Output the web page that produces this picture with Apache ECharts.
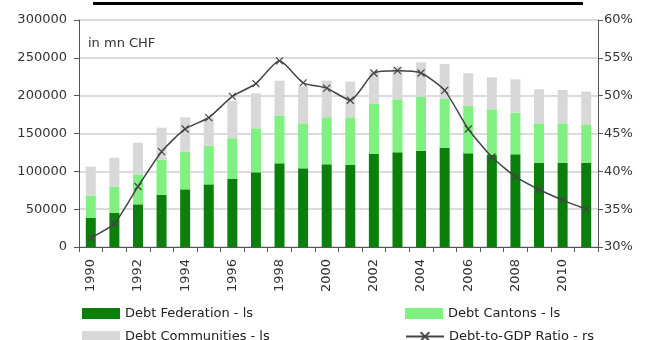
<!DOCTYPE html>
<html>
<head>
<meta charset="utf-8">
<script src="https://cdn.jsdelivr.net/npm/echarts@6/dist/echarts.min.js"></script>
<style>html,body{margin:0;padding:0;background:#fff;}#c{width:657px;height:340px;}</style>
</head>
<body>
<div id="c"></div>
<script>
var years = ['1990','1991','1992','1993','1994','1995','1996','1997','1998','1999','2000','2001','2002','2003','2004','2005','2006','2007','2008','2009','2010','2011'];
var debtFederation = [38700,45300,56400,68700,76200,82800,89900,98700,110600,104000,109300,108400,122900,125100,127300,131200,123800,121600,122500,111400,111400,111400];
var debtCantons = [29100,34400,39600,46300,49800,51100,53800,58200,62500,59500,62200,63000,66100,70100,71300,64400,62500,60400,55000,52100,52100,49800];
var debtCommunities = [38300,38300,41800,42700,45400,37000,49300,46200,46700,48400,48500,47100,42000,43100,45500,46200,43200,42300,44100,44900,44000,44100];
var debtToGdp = [31.2,33.1,38.0,42.6,45.6,47.1,49.9,51.6,54.6,51.7,51.0,49.4,53.0,53.3,53.0,50.7,45.6,41.9,39.3,37.6,36.2,35.0];
var leftTicks = {min:0, max:300000, interval:50000};
var rightTicks = {min:30, max:60, interval:5};
var titleText = 'Swiss public debt development (1990-2011)';
var unitText = 'in mn CHF';

var FONT = 'DejaVu Sans';
var chart = echarts.init(document.getElementById('c'), null, {renderer:'canvas'});
var xMark = 'path://M0,0L10,10M10,0L0,10';
var legText = {fontFamily:FONT, fontSize:13, color:'#222'};
chart.setOption({
  animation:false,
  textStyle:{fontFamily:FONT},
  grid:{left:79, right:59, top:20, bottom:93},
  graphic:[
    {type:'text', left:'center', top:-22, z:10, style:{text:titleText, font:'bold 22px "Liberation Sans"', fill:'#000'}},
    {type:'rect', left:93, top:2, z:10, shape:{x:0, y:0, width:490, height:3}, style:{fill:'#000'}},
    {type:'text', left:88, top:37, style:{text:unitText, font:'13px "DejaVu Sans"', fill:'#333'}}
  ],
  legend:[
    {data:[{name:'Debt Federation - ls', icon:'rect'}], left:77, top:302, itemWidth:38, itemHeight:11, textStyle:legText},
    {data:[{name:'Debt Cantons - ls', icon:'rect'}], left:400, top:302, itemWidth:38, itemHeight:11, textStyle:legText},
    {data:[{name:'Debt Communities - ls', icon:'rect'}], left:77, top:325, itemWidth:38, itemHeight:11, textStyle:legText},
    {data:['Debt-to-GDP Ratio - rs'], left:400, top:325, itemWidth:38, itemHeight:11, textStyle:legText}
  ],
  xAxis:{
    type:'category', data:years, boundaryGap:true,
    axisLine:{lineStyle:{color:'#555', width:1}},
    axisTick:{show:true, interval:0, length:5, lineStyle:{color:'#555'}},
    axisLabel:{rotate:90, interval:1, margin:12, fontFamily:FONT, fontSize:13, color:'#333'}
  },
  yAxis:[
    {type:'value', min:leftTicks.min, max:leftTicks.max, interval:leftTicks.interval, position:'left',
     axisLine:{show:true, lineStyle:{color:'#555', width:1}},
     axisTick:{show:true, length:5, lineStyle:{color:'#555'}},
     axisLabel:{margin:12, fontFamily:FONT, fontSize:13, color:'#333', formatter:function(v){return String(v);}},
     splitLine:{show:true, lineStyle:{color:'#cfcfcf', width:1.5}}},
    {type:'value', min:rightTicks.min, max:rightTicks.max, interval:rightTicks.interval, position:'right',
     axisLine:{show:true, lineStyle:{color:'#555', width:1}},
     axisTick:{show:true, length:5, lineStyle:{color:'#555'}},
     axisLabel:{margin:6, fontFamily:FONT, fontSize:13, color:'#333', formatter:'{value}%'},
     splitLine:{show:false}}
  ],
  series:[
    {name:'Debt Federation - ls', type:'bar', stack:'debt', barWidth:10, data:debtFederation, itemStyle:{color:'#0a800a'}},
    {name:'Debt Cantons - ls', type:'bar', stack:'debt', barWidth:10, data:debtCantons, itemStyle:{color:'#80f080'}},
    {name:'Debt Communities - ls', type:'bar', stack:'debt', barWidth:10, data:debtCommunities, itemStyle:{color:'#d8d8d8'}},
    {name:'Debt-to-GDP Ratio - rs', type:'line', yAxisIndex:1, data:debtToGdp, smooth:0.2,
     symbol:xMark, symbolSize:7, showSymbol:true,
     lineStyle:{color:'#444', width:1.5},
     itemStyle:{color:'#444', borderColor:'#444', borderWidth:1.2}}
  ]
});
</script>
</body>
</html>
